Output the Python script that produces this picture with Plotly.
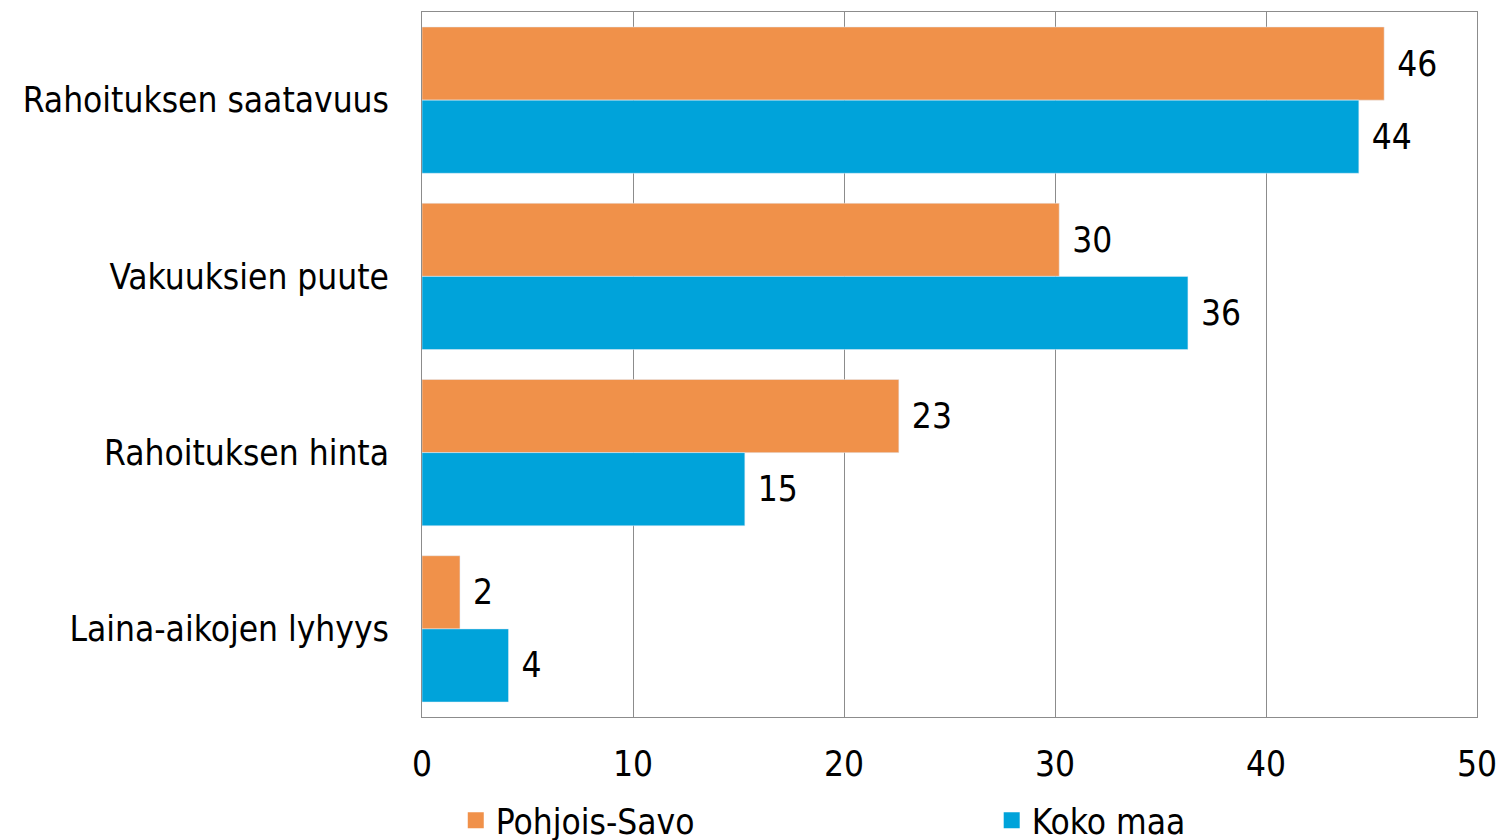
import plotly.graph_objects as go

categories = [
    "Rahoituksen saatavuus",
    "Vakuuksien puute",
    "Rahoituksen hinta",
    "Laina-aikojen lyhyys",
]
pohjois_savo = [45.6, 30.2, 22.6, 1.8]
koko_maa = [44.4, 36.3, 15.3, 4.1]
x_ticks = [0, 10, 20, 30, 40, 50]

FONT = "DejaVu Sans Condensed"
FS = 35
GRID = "#8c8c8c"
ORANGE = "#F0914A"
BLUE = "#00A3DA"

fig = go.Figure()
for name, vals, color, leg in [
    ("Pohjois-Savo", pohjois_savo, ORANGE, "legend"),
    ("Koko maa", koko_maa, BLUE, "legend2"),
]:
    fig.add_trace(
        go.Bar(
            y=categories,
            x=vals,
            orientation="h",
            name=name,
            marker=dict(color=color),
            texttemplate="\u00a0%{x:.0f}",
            textposition="outside",
            textfont=dict(size=FS, color="black", family=FONT),
            constraintext="none",
            cliponaxis=False,
            showlegend=False,
        )
    )
    # legend entry with a bigger square than the bar legend gives
    fig.add_trace(
        go.Scatter(
            x=[None],
            y=[None],
            mode="markers",
            name=name,
            marker=dict(color=color, symbol="square", size=20),
            showlegend=True,
            legend=leg,
        )
    )

legend_style = dict(
    orientation="h",
    xanchor="left",
    y=-0.105,
    yanchor="top",
    font=dict(size=FS),
    bgcolor="rgba(0,0,0,0)",
)

fig.update_layout(
    width=1499,
    height=840,
    showlegend=True,
    barmode="group",
    bargap=0.17,
    bargroupgap=0,
    plot_bgcolor="white",
    paper_bgcolor="white",
    font=dict(family=FONT, size=FS, color="black"),
    margin=dict(l=422, r=22, t=12, b=123, autoexpand=False),
    xaxis=dict(
        range=[0, 50],
        tickvals=x_ticks,
        showgrid=True,
        gridcolor=GRID,
        gridwidth=1,
        showline=True,
        linecolor=GRID,
        linewidth=1,
        mirror=True,
        zeroline=False,
        ticklabelstandoff=16,
        tickfont=dict(size=FS),
    ),
    yaxis=dict(
        autorange="reversed",
        showline=True,
        linecolor=GRID,
        linewidth=1,
        mirror=True,
        showgrid=False,
        ticklabelstandoff=25,
        tickfont=dict(size=FS),
    ),
    legend=dict(legend_style, x=0.032),
    legend2=dict(legend_style, x=0.54),
)

# drop the default page margin so the figure fills the window exactly
fig.write_html(
    "out.html",
    config={"displayModeBar": False},
    post_script="document.body.style.margin='0';document.body.style.overflow='hidden';",
)
